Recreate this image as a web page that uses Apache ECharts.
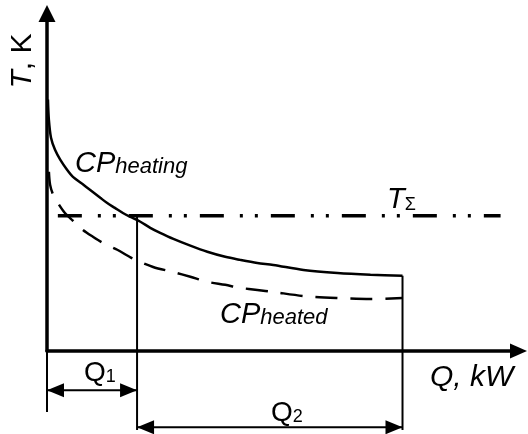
<!DOCTYPE html>
<html>
<head>
<meta charset="utf-8">
<script src="https://cdn.jsdelivr.net/npm/echarts@6/dist/echarts.min.js"></script>
<style>
html,body{margin:0;padding:0;background:#fff;}
#c{width:528px;height:434px;}
</style>
</head>
<body>
<div id="c"></div>
<script>
// ---- data (schematic units: Q 0..100, T 0..100) ----
const heatingQ = [0.2,0.4,0.85,1.7,2.8,4.25,5.5,7.4,9.1,11.3,12.7,14.4,16.1,17.6,19.8,21.9,24.0,26.8,30.4,34.0,37.8,41.0,44.6,48.0,54.4,61.6,68.6,75.4];
const heatingT = [74.5,68.5,63.2,59.6,56.7,53.7,51.6,49.6,47.8,45.4,43.9,42.4,40.9,39.8,38.3,36.5,35.0,33.2,31.2,29.4,27.9,27.0,26.1,25.5,24.0,23.1,22.6,22.3];
const heatedQ = [0.4,0.65,1.3,2.3,3.8,5.5,7.6,9.8,11.9,14.9,18.3,22.5,26.8,30.4,34.0,37.8,41.0,44.6,48.0,54.4,61.6,68.6,75.4];
const heatedT = [53.1,49.3,46.3,43.9,40.9,38.6,35.9,33.8,32.0,30.0,27.3,24.9,23.4,22.0,20.5,19.6,18.7,18.1,17.5,16.3,15.7,15.4,15.7];
const tSigma = 40.1;
const tSigmaQ = [2.3, 96.2];
const q1End = 19.1;
const q2End = 75.4;
const q1DimT = -11.6;
const q2DimT = -22.6;
const leftExtT = -18.1;
const midExtT = -23.4;
const rightExtT = -23.4;
const labels = {yName:['T', ', K'], xName:'Q, kW', heating:['CP','heating'], heated:['CP','heated'], tSum:['T','Σ'], q1:['Q','1'], q2:['Q','2']};

const FF = '"Liberation Sans", Arial, sans-serif';
const zip = (a,b) => a.map((v,i)=>[v,b[i]]);
const arrowL = (v) => ({value:v, symbol:'triangle', symbolSize:[14,17], symbolRotate:90, symbolOffset:[8.5,0]});
const arrowR = (v) => ({value:v, symbol:'triangle', symbolSize:[14,17], symbolRotate:-90, symbolOffset:[-8.5,0]});
const thin = {color:'#000', width:2};
const rt = (size, italic, extra) => Object.assign({fontFamily:FF, fontSize:size, fontStyle:italic?'italic':'normal', fill:'#000', lineHeight:34, verticalAlign:'bottom'}, extra||{});
const tx = (x, y, str, rich) => ({type:'text', x:x, y:y, style:{text:str, rich:rich, align:'left', verticalAlign:'bottom', textAlign:'left', textVerticalAlign:'bottom'}});

const chart = echarts.init(document.getElementById('c'), null, {renderer:'canvas'});
const option = {
  animation:false,
  backgroundColor:'#fff',
  grid:{left:47, right:9.5, top:13.5, bottom:83},
  xAxis:{type:'value', min:0, max:100,
    axisLine:{show:true, onZero:false, symbol:['none','triangle'], symbolSize:[15,17], lineStyle:{color:'#000', width:3.5}},
    axisTick:{show:false}, axisLabel:{show:false}, splitLine:{show:false}},
  yAxis:{type:'value', min:0, max:100,
    axisLine:{show:true, onZero:false, symbol:['none','triangle'], symbolSize:[17,17], lineStyle:{color:'#000', width:3.5}},
    axisTick:{show:false}, axisLabel:{show:false}, splitLine:{show:false}},
  series:[
    {type:'line', name:'heating', data:zip(heatingQ, heatingT), smooth:0.3, symbol:'none', clip:false,
      lineStyle:{color:'#000', width:2.5}},
    {type:'line', name:'heated', data:zip(heatedQ, heatedT), smooth:0.3, symbol:'none', clip:false,
      lineStyle:{color:'#000', width:2.5, type:[22,13]}},
    {type:'line', name:'tsum', data:[[tSigmaQ[0],tSigma],[tSigmaQ[1],tSigma]], symbol:'none', clip:false,
      lineStyle:{color:'#000', width:3.5, type:[24,16,3,12,3,13]}},
    {type:'line', data:[[0,0],[0,leftExtT]], symbol:'none', clip:false, lineStyle:thin},
    {type:'line', data:[[q1End,tSigma],[q1End,midExtT]], symbol:'none', clip:false, lineStyle:thin},
    {type:'line', data:[[q2End,heatingT[heatingT.length-1]],[q2End,rightExtT]], symbol:'none', clip:false, lineStyle:thin},
    {type:'line', data:[arrowL([0,q1DimT]), arrowR([q1End,q1DimT])], showSymbol:true, clip:false, lineStyle:thin, itemStyle:{color:'#000'}},
    {type:'line', data:[arrowL([q1End,q2DimT]), arrowR([q2End,q2DimT])], showSymbol:true, clip:false, lineStyle:thin, itemStyle:{color:'#000'}}
  ],
  graphic:[
    {type:'text', x:21, y:61, rotation:Math.PI/2, style:{text:'{i|'+labels.yName[0]+'}{n|'+labels.yName[1]+'}', align:'center', verticalAlign:'middle', textAlign:'center', textVerticalAlign:'middle',
      rich:{i:rt(30,true), n:rt(30,false)}}},
    {type:'text', x:430, y:393, style:{text:labels.xName, font:'italic 30px '+FF, fill:'#000', align:'left', verticalAlign:'bottom', textAlign:'left', textVerticalAlign:'bottom'}},
    tx(75, 178, '{c|'+labels.heating[0]+'}{s|'+labels.heating[1]+'}', {c:rt(29,true), s:rt(22,true)}),
    tx(220, 329, '{c|'+labels.heated[0]+'}{s|'+labels.heated[1]+'}', {c:rt(29,true), s:rt(22,true)}),
    tx(387, 214, '{c|'+labels.tSum[0]+'}{s|'+labels.tSum[1]+'}', {c:rt(29,true), s:rt(18,false)}),
    tx(84, 387, '{c|'+labels.q1[0]+'}{s|'+labels.q1[1]+'}', {c:rt(28,false), s:rt(18,false, {padding:[0,0,1,0]})}),
    tx(271, 427, '{c|'+labels.q2[0]+'}{s|'+labels.q2[1]+'}', {c:rt(28,false), s:rt(18,false, {padding:[0,0,1,0]})})
  ]
};
chart.setOption(option);
</script>
</body>
</html>
